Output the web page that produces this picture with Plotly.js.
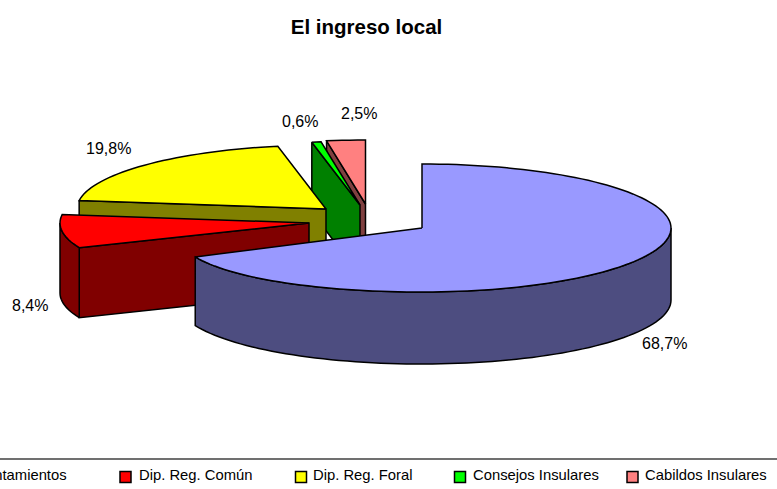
<!DOCTYPE html>
<html><head><meta charset="utf-8">
<script src="https://cdn.plot.ly/plotly-3.0.1.min.js"></script>
<style>html,body{margin:0;padding:0;background:#fff;overflow:hidden}</style>
</head><body><div id="chart" style="width:777px;height:489px"></div>
<script>
// Data
const categories = ["Ayuntamientos","Dip. Reg. Común","Dip. Reg. Foral","Consejos Insulares","Cabildos Insulares"];
const shares = [68.7, 8.4, 19.8, 0.6, 2.5];
const shareLabels = ["68,7%","8,4%","19,8%","0,6%","2,5%"];

// Styles
const topColors = ["#9999ff","#ff0000","#ffff00","#00ff00","#ff8080"];
const wallColors = ["#4d4d80","#800000","#808000","#008000","#804040"];

// Geometry of the exploded 3-D pie, in the pixel space of the axes
const RX = 249, RY = 64;
const depths = [72, 70, 70, 70, 70];
const apexX = [422, 309, 326, 360, 365.5];
const apexY = [228, 223, 209, 205, 204];
const labelX = [664, 30, 108, 300, 359];
const labelY = [343, 305, 148, 121, 113];
const legendSwatchX = [-45, 125.5, 301, 460, 632.5];
const legendTextX = [69, 137, 311, 471, 643];

const rad = d => d * Math.PI / 180;
// the big slice leans a little to the left, as the perspective of the original does
const lean = (i, deg) => i === 0 ? Math.pow(Math.max(0, -Math.sin(rad(deg))), 2) : 0;
function pt(i, deg, low) {
  const s = lean(i, deg);
  return [apexX[i] + RX * Math.sin(rad(deg)) + 3.5 * s,
          apexY[i] - RY * Math.cos(rad(deg)) + 5 * s + (low ? depths[i] - 4 * s : 0)];
}
function arc(i, a, b, low) {
  const out = [], n = Math.max(2, Math.ceil(Math.abs(b - a) / 2));
  for (let k = 0; k <= n; k++) out.push(pt(i, a + (b - a) * k / n, low));
  return out;
}
function poly(points, fill, name) {
  const p = points.concat([points[0]]);
  return {x: p.map(q => q[0]), y: p.map(q => q[1]), type: "scatter", mode: "lines", fill: "toself",
    fillcolor: fill, line: {color: "#000", width: 1.5, simplify: false}, hoverinfo: "name", name: name, showlegend: false};
}

// angular spans from the shares
const total = shares.reduce((a, b) => a + b, 0);
const starts = [], ends = [];
let acc = 0;
shares.forEach(v => { starts.push(acc); acc += v / total * 360; ends.push(acc); });

const traces = [];
[4, 3, 2, 1, 0].forEach(i => {
  const a = starts[i], b = ends[i], apex = [apexX[i], apexY[i]], apexLow = [apexX[i], apexY[i] + depths[i]];
  if (Math.sin(rad(a)) < -1e-6) {
    traces.push(poly([pt(i, a), apex, apexLow, pt(i, a, true)], wallColors[i], categories[i]));
  }
  const lo = Math.max(a, 90), hi = Math.min(b, 270);
  if (hi > lo) {
    traces.push(poly(arc(i, lo, hi).concat(arc(i, hi, lo, true)), wallColors[i], categories[i]));
  }
  traces.push(poly([apex].concat(arc(i, a, b)), topColors[i], categories[i]));
});

// legend swatches
traces.push({x: legendSwatchX, y: categories.map(() => 477), type: "scatter", mode: "markers", showlegend: false, hoverinfo: "skip",
  marker: {symbol: "square", size: 11, color: topColors, line: {color: "#000", width: 1.5}}});

const font = {family: "Liberation Sans, Arial, sans-serif", color: "#000"};
const annotations = [];
shareLabels.forEach((t, i) => annotations.push({x: labelX[i], y: labelY[i], text: t, showarrow: false, xref: "x", yref: "y",
  xanchor: "center", yanchor: "middle", font: {...font, size: 16}}));
categories.forEach((t, i) => annotations.push({x: legendTextX[i], y: 475, text: t, showarrow: false, xref: "x", yref: "y",
  xanchor: i === 0 ? "right" : "left", yanchor: "middle", font: {...font, size: 14.8}}));

const layout = {
  width: 777, height: 489, margin: {l: 0, r: 0, t: 0, b: 0},
  paper_bgcolor: "#fff", plot_bgcolor: "#fff",
  title: {text: "<b>El ingreso local</b>", font: {...font, size: 20.5}, x: 366.5 / 777, xanchor: "center", y: 1 - 27 / 489, yanchor: "middle"},
  xaxis: {range: [0, 777], visible: false, fixedrange: true},
  yaxis: {range: [489, 0], visible: false, fixedrange: true},
  shapes: [{type: "line", xref: "x", yref: "y", x0: 0, x1: 777, y0: 459, y1: 459, line: {color: "#707070", width: 2}}],
  annotations: annotations,
  showlegend: false
};
Plotly.newPlot("chart", traces, layout, {displayModeBar: false, staticPlot: true});
</script></body></html>
